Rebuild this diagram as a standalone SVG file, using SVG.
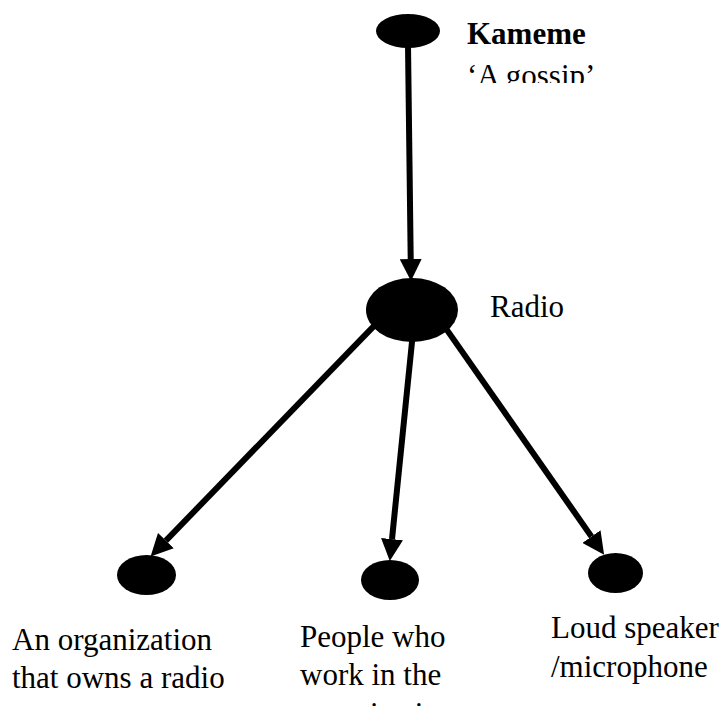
<svg xmlns="http://www.w3.org/2000/svg" width="725" height="706" viewBox="0 0 725 706">
<style>
.n{fill:#000}
.c{stroke:#000;stroke-width:6;fill:none;marker-end:url(#ah)}
.t{font-family:'Liberation Serif','Times New Roman',serif;font-size:31px;fill:#000}
.b{font-weight:bold}
</style>
<defs>
<marker id="ah" markerUnits="userSpaceOnUse" markerWidth="22" markerHeight="22" refX="0" refY="10" orient="auto" viewBox="0 0 20 20">
<path d="M0,0 L20,10 L0,20 z" fill="#000"/>
</marker>
<clipPath id="clipTop"><rect x="460" y="0" width="265" height="83"/></clipPath>
</defs>
<rect width="725" height="706" fill="#fff"/>
<g id="connectors">
<line class="c" x1="408" y1="45" x2="410.7" y2="259"/>
<line class="c" x1="375.5" y1="324.4" x2="165.9" y2="540.6"/>
<line class="c" x1="412.5" y1="337" x2="392" y2="539.1"/>
<line class="c" x1="444.1" y1="325.9" x2="591.5" y2="536.6"/>
</g>
<g id="kameme">
<ellipse class="n" cx="408" cy="31" rx="32" ry="17"/>
<g clip-path="url(#clipTop)">
<text class="t b" x="467" y="44">Kameme</text>
<text class="t" x="467" y="86">‘A gossip’</text>
</g>
</g>
<g id="radio">
<ellipse class="n" cx="412" cy="310" rx="46" ry="32"/>
<text class="t" x="490" y="317">Radio</text>
</g>
<g id="organization">
<ellipse class="n" cx="146.5" cy="575" rx="29.5" ry="20"/>
<text class="t" x="12" y="650">An organization</text>
<text class="t" x="12" y="688">that owns a radio</text>
</g>
<g id="people">
<ellipse class="n" cx="390" cy="580" rx="29" ry="20"/>
<text class="t" x="300" y="647">People who</text>
<text class="t" x="300" y="685">work in the</text>
<text class="t" x="300" y="724">organization</text>
</g>
<g id="speaker">
<ellipse class="n" cx="615.5" cy="573" rx="27.5" ry="20"/>
<text class="t" x="551" y="638">Loud speaker</text>
<text class="t" x="551" y="677">/microphone</text>
</g>
</svg>
